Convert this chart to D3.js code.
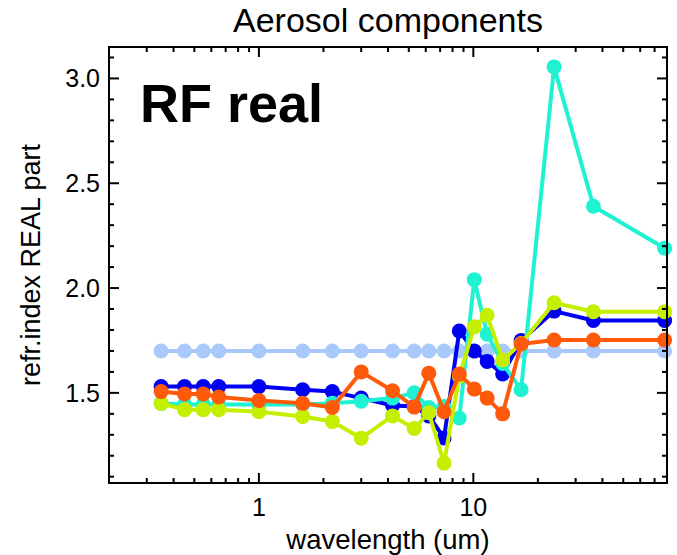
<!DOCTYPE html>
<html>
<head>
<meta charset="utf-8">
<script src="https://cdn.jsdelivr.net/npm/d3@7"></script>
<style>
  html, body { margin: 0; padding: 0; background: #fff; }
  svg { display: block; }
  text { font-family: "Liberation Sans", Arial, Helvetica, sans-serif; fill: #000; }
</style>
</head>
<body>
<svg id="chart" width="677" height="555"></svg>
<script>
// ---- data ----
const wavelength = [0.35, 0.45, 0.55, 0.65, 1.0, 1.6, 2.2, 3.0, 4.2, 5.3, 6.2, 7.3, 8.6, 10.1, 11.6, 13.7, 16.7, 23.8, 36.3, 78];
const seriesLightBlue = [1.7, 1.7, 1.7, 1.7, 1.7, 1.7, 1.7, 1.7, 1.7, 1.7, 1.7, 1.7, 1.7, 1.7, 1.7, 1.7, 1.7, 1.7, 1.7, 1.7];
const seriesBlue   = [1.53, 1.53, 1.53, 1.53, 1.53, 1.515, 1.506, 1.475, 1.44, 1.435, 1.39, 1.285, 1.795, 1.70, 1.65, 1.59, 1.75, 1.89, 1.845, 1.845];
const seriesCyan   = [1.45, 1.445, 1.445, 1.445, 1.445, 1.445, 1.45, 1.46, 1.475, 1.50, 1.43, 1.435, 1.38, 2.04, 1.78, 1.64, 1.515, 3.055, 2.39, 2.19];
const seriesYellow = [1.45, 1.42, 1.42, 1.42, 1.41, 1.387, 1.363, 1.284, 1.39, 1.33, 1.405, 1.165, 1.58, 1.815, 1.87, 1.657, 1.735, 1.93, 1.887, 1.887];
const seriesOrange = [1.506, 1.495, 1.495, 1.48, 1.463, 1.45, 1.43, 1.60, 1.51, 1.432, 1.594, 1.41, 1.59, 1.518, 1.475, 1.40, 1.733, 1.752, 1.752, 1.752];
const seriesColors = ["#a9c9fa", "#0000f2", "#1ef2d2", "#c4f000", "#ff5a0a"];
const xMajorTicks = [1, 10];
const xTickLabels = ["1", "10"];
const xMinorTicks = [0.3, 0.4, 0.5, 0.6, 0.7, 0.8, 0.9, 2, 3, 4, 5, 6, 7, 8, 9, 20, 30, 40, 50, 60, 70];
const yMajorTicks = [1.5, 2.0, 2.5, 3.0];
const yTickLabels = ["1.5", "2.0", "2.5", "3.0"];
const yMinorTicks = [1.1, 1.2, 1.3, 1.4, 1.6, 1.7, 1.8, 1.9, 2.1, 2.2, 2.3, 2.4, 2.6, 2.7, 2.8, 2.9, 3.1];
const titleText = "Aerosol components";
const panelLabel = "RF real";
const xLabel = "wavelength (um)";
const yLabel = "refr.index REAL part";

// ---- layout ----
const L = 109, R = 667, T = 47, B = 483;
const svg = d3.select("#chart");
const x = d3.scaleLog().domain([0.2, 80]).range([L, R]);
const y = d3.scaleLinear().domain([1.07, 3.15]).range([B, T]);

const series = [seriesLightBlue, seriesBlue, seriesCyan, seriesYellow, seriesOrange];

// data
const line = d3.line().x((d, i) => x(wavelength[i])).y(d => y(d));
const dataG = svg.append("g");
series.forEach((s, k) => {
  const g = dataG.append("g");
  g.append("path").datum(s).attr("d", line)
    .attr("fill", "none").attr("stroke", seriesColors[k])
    .attr("stroke-width", 4).attr("stroke-linejoin", "round");
  g.selectAll("circle").data(s).enter().append("circle")
    .attr("cx", (d, i) => x(wavelength[i])).attr("cy", d => y(d))
    .attr("r", 7.5).attr("fill", seriesColors[k]);
});

// axes (IDL-style box with inward ticks on all sides)
const majorLen = 10, minorLen = 5;
const axG = svg.append("g").attr("stroke", "#000").attr("stroke-width", 2);
function xTicks(vals, len) {
  vals.forEach(v => {
    axG.append("line").attr("x1", x(v)).attr("x2", x(v)).attr("y1", B).attr("y2", B - len);
    axG.append("line").attr("x1", x(v)).attr("x2", x(v)).attr("y1", T).attr("y2", T + len);
  });
}
function yTicks(vals, len) {
  vals.forEach(v => {
    axG.append("line").attr("y1", y(v)).attr("y2", y(v)).attr("x1", L).attr("x2", L + len);
    axG.append("line").attr("y1", y(v)).attr("y2", y(v)).attr("x1", R).attr("x2", R - len);
  });
}
xTicks(xMajorTicks, majorLen);
xTicks(xMinorTicks, minorLen);
yTicks(yMajorTicks, majorLen);
yTicks(yMinorTicks, minorLen);
axG.append("rect").attr("x", L).attr("y", T).attr("width", R - L).attr("height", B - T)
  .attr("fill", "none");

// tick labels
svg.append("g").selectAll("text").data(xMajorTicks).enter().append("text")
  .attr("x", d => x(d)).attr("y", 516).attr("text-anchor", "middle")
  .attr("font-size", 25).text((d, i) => xTickLabels[i]);
svg.append("g").selectAll("text").data(yMajorTicks).enter().append("text")
  .attr("x", 100).attr("y", d => y(d) + 9).attr("text-anchor", "end")
  .attr("font-size", 25).text((d, i) => yTickLabels[i]);

// labels
svg.append("text").attr("x", (L + R) / 2).attr("y", 549).attr("text-anchor", "middle")
  .attr("font-size", 27.5).text(xLabel);
svg.append("text").attr("transform", `translate(40,${(T + B) / 2}) rotate(-90)`)
  .attr("text-anchor", "middle").attr("font-size", 27).text(yLabel);
svg.append("text").attr("x", (L + R) / 2).attr("y", 32).attr("text-anchor", "middle")
  .attr("font-size", 34).text(titleText);
svg.append("text").attr("x", 140).attr("y", 122).attr("font-size", 54)
  .attr("font-weight", "bold").text(panelLabel);
</script>
</body>
</html>
